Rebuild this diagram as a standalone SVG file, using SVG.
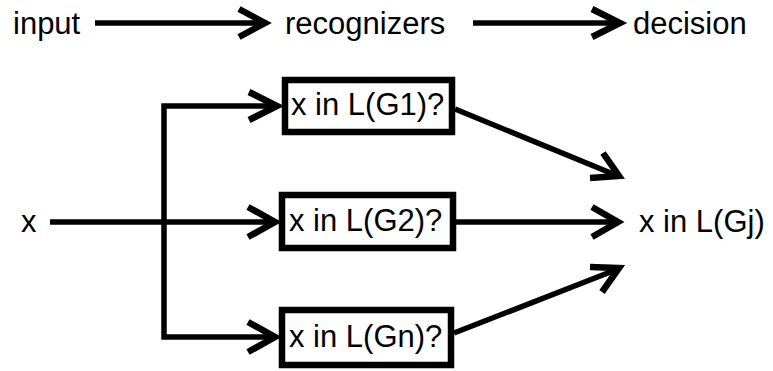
<svg xmlns="http://www.w3.org/2000/svg" width="773" height="371" viewBox="0 0 773 371">
<style>
text { font-family: "Liberation Sans", Arial, sans-serif; font-size: 31px; fill: #000; }
.ln { fill: none; stroke: #000; stroke-width: 5.5; }
.hd { fill: none; stroke: #000; stroke-width: 6.5; stroke-linejoin: miter; stroke-miterlimit: 10; }
.box { fill: #fff; stroke: #000; stroke-width: 6.5; }
</style>
<rect width="773" height="371" fill="#fff"/>
<g id="labels">
<text x="13" y="34">input</text>
<text x="285" y="34">recognizers</text>
<text x="633" y="34">decision</text>
</g>
<g id="connectors">
<line class="ln" x1="95" y1="23" x2="264" y2="23"/>
<polyline class="hd" points="239,9 265,23 239,37"/>
<line class="ln" x1="473" y1="23" x2="619" y2="23"/>
<polyline class="hd" points="592,9 620,23 592,37"/>
<line class="ln" x1="50" y1="222" x2="274" y2="222"/>
<polyline class="hd" points="248,207 275,222 248,237"/>
<polyline class="ln" points="276,106 164,106 164,337 274,337"/>
<polyline class="hd" points="249,92 277,106 249,120"/>
<polyline class="hd" points="248,322 275,337 248,352"/>
<line class="ln" x1="455" y1="109" x2="618" y2="176"/>
<polyline class="hd" points="603,153 619,176 590,178"/>
<line class="ln" x1="456" y1="222" x2="617" y2="222"/>
<polyline class="hd" points="592,207 618,222 592,237"/>
<line class="ln" x1="454" y1="333" x2="618" y2="269"/>
<polyline class="hd" points="590,267 619,268 602,292"/>
</g>
<g id="node-g1">
<rect class="box" x="285" y="80" width="167" height="52"/>
<text x="291" y="115">x in L(G1)?</text>
</g>
<g id="node-g2">
<rect class="box" x="282" y="195" width="171" height="53"/>
<text x="289" y="231">x in L(G2)?</text>
</g>
<g id="node-gn">
<rect class="box" x="282" y="310" width="169" height="55"/>
<text x="289" y="347">x in L(Gn)?</text>
</g>
<g id="node-x">
<text x="21" y="232">x</text>
</g>
<g id="node-decision">
<text x="639" y="232">x in L(Gj)</text>
</g>
</svg>
